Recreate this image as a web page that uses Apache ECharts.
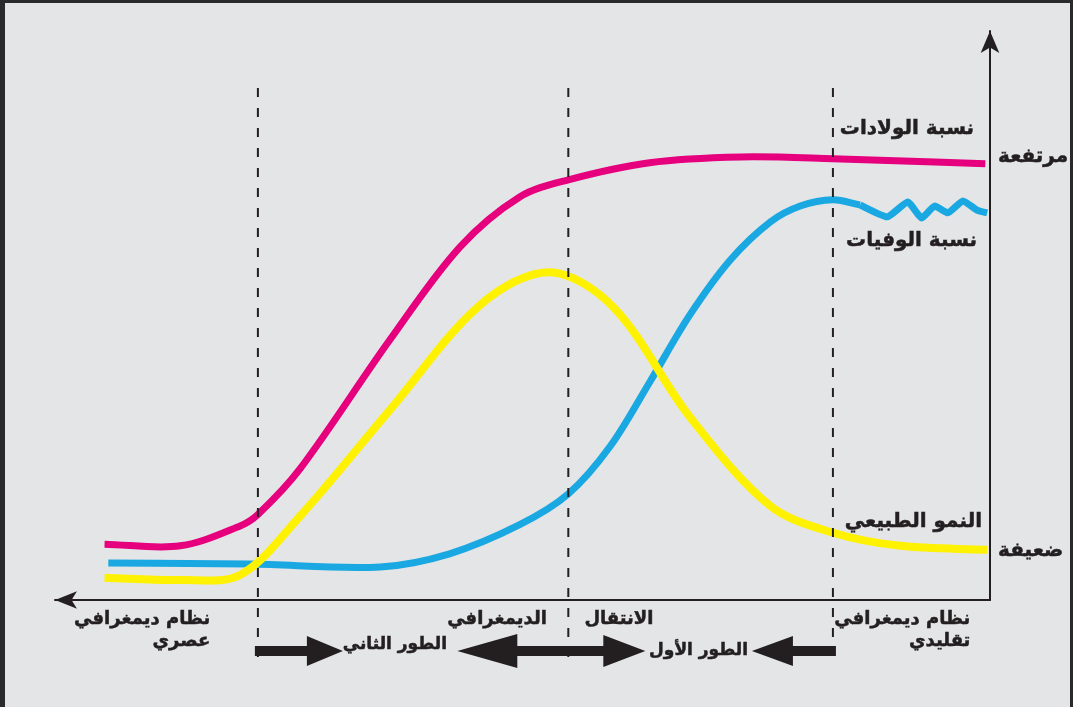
<!DOCTYPE html>
<html lang="ar">
<head>
<meta charset="utf-8">
<script src="https://cdn.jsdelivr.net/npm/echarts@6/dist/echarts.min.js"></script>
<style>
html,body{margin:0;padding:0;background:#e4e5e7;}
#c{width:1073px;height:707px;}
</style>
</head>
<body>
<div id="c"></div>
<script>
// ---- data (x: time units 0..100, y: rate level units 0..99.8) ----
const birthRate = [[5.3,9.8],[13.4,9.5],[19.8,13.0],[21.7,15.0],[26.2,23.0],[35.8,45.6],[43.3,61.9],[49.7,70.7],[54.9,73.7],[63.6,76.7],[73.3,77.7],[83.2,77.4],[99.5,76.5]];
const deathRate = [[5.7,6.5],[20.9,6.3],[34.8,5.8],[42.2,8.1],[49.7,13.2],[54.9,18.6],[59.4,27.0],[63.6,38.2],[67.9,50.0],[72.2,59.6],[76.5,66.3],[79.7,69.1],[83.2,70.2],[86.1,69.3]];
const deathRateTail = [[86.1,69.3],[89.0,67.2],[91.2,69.8],[92.7,67.0],[94.1,69.1],[95.5,67.9],[97.1,70.0],[98.6,68.4],[99.7,67.9]];
const naturalGrowth = [[5.3,3.9],[13.4,3.5],[19.8,4.4],[26.2,14.7],[35.8,33.3],[45.5,51.8],[52.9,57.5],[59.7,51.4],[67.9,32.1],[76.5,16.5],[83.2,11.8],[90.4,9.5],[99.7,8.8]];
const phaseBounds = [21.7, 54.9, 83.2];
const yLevelValues = [8.6, 77.7];
const yLevelLabels = ['ضعيفة', 'مرتفعة'];
const xLabelValues = [16.6, 52.6, 64.0, 97.9];
const xLabelTexts = ['نظام ديمغرافي\nعصري', 'الديمغرافي', 'الانتقال', 'نظام ديمغرافي\nتقليدي'];
const seriesNames = ['نسبة الولادات', 'نسبة الوفيات', 'النمو الطبيعي'];
const phaseNames = ['الطور الثاني', 'الطور الأول'];

const INK = '#231f20';
const FONT = '"DejaVu Sans", sans-serif';
const chart = echarts.init(document.getElementById('c'));

// smooth curve (chord-length Catmull-Rom) through the data, positioned with the axes' scales
function smoothCurve(name, data, color, width, z) {
  return {
    name: name, type: 'custom', data: data, z: z, clip: false,
    encode: {x: 0, y: 1},
    renderItem: function (params, api) {
      if (params.dataIndex !== 0) return null;
      const p = data.map(function (d) { return api.coord(d); });
      const n = p.length;
      const dist = function (a, b) { return Math.hypot(b[0] - a[0], b[1] - a[1]); };
      const m = p.map(function (pt, i) {
        if (i === 0) { const l = dist(p[0], p[1]); return [(p[1][0] - p[0][0]) / l, (p[1][1] - p[0][1]) / l]; }
        if (i === n - 1) { const l = dist(p[n - 2], p[n - 1]); return [(p[n - 1][0] - p[n - 2][0]) / l, (p[n - 1][1] - p[n - 2][1]) / l]; }
        const l = dist(p[i - 1], p[i]) + dist(p[i], p[i + 1]);
        return [(p[i + 1][0] - p[i - 1][0]) / l, (p[i + 1][1] - p[i - 1][1]) / l];
      });
      let d = 'M' + p[0][0] + ' ' + p[0][1];
      for (let i = 0; i < n - 1; i++) {
        const s = dist(p[i], p[i + 1]) / 3;
        d += ' C' + (p[i][0] + m[i][0] * s) + ' ' + (p[i][1] + m[i][1] * s) + ' ' +
             (p[i + 1][0] - m[i + 1][0] * s) + ' ' + (p[i + 1][1] - m[i + 1][1] * s) + ' ' +
             p[i + 1][0] + ' ' + p[i + 1][1];
      }
      return {type: 'path', shape: {pathData: d},
        style: {stroke: color, lineWidth: width, fill: 'none', lineCap: 'butt', lineJoin: 'round'}};
    }
  };
}

chart.setOption({
  backgroundColor: '#e4e5e7',
  animation: false,
  grid: {left: 55, right: 83, top: 31, bottom: 107},
  xAxis: {
    type: 'value', min: 0, max: 100,
    axisLine: {onZero: false, symbol: ['arrow', 'none'], symbolSize: [13, 22], lineStyle: {color: INK, width: 2}},
    axisTick: {show: false}, splitLine: {show: false},
    axisLabel: {
      customValues: xLabelValues,
      formatter: function (v) { const i = xLabelValues.indexOf(v); return i >= 0 ? xLabelTexts[i] : ''; },
      align: 'right', verticalAlign: 'top', margin: 8,
      color: INK, fontFamily: FONT, fontWeight: 'bold', fontSize: 18, lineHeight: 22,
      textBorderColor: INK, textBorderWidth: 0.5
    }
  },
  yAxis: {
    type: 'value', min: 0, max: 99.8, position: 'right',
    axisLine: {onZero: false, symbol: ['none', 'arrow'], symbolSize: [14, 22], lineStyle: {color: INK, width: 2}},
    axisTick: {show: false}, splitLine: {show: false},
    axisLabel: {
      customValues: yLevelValues,
      formatter: function (v) { const i = yLevelValues.indexOf(v); return i >= 0 ? yLevelLabels[i] : ''; },
      align: 'left', margin: 8,
      color: INK, fontFamily: FONT, fontWeight: 'bold', fontSize: 20,
      textBorderColor: INK, textBorderWidth: 0.5
    }
  },
  series: [
    smoothCurve(seriesNames[0], birthRate, '#e6007e', 7, 3),
    smoothCurve(seriesNames[1], deathRate, '#1aa8e2', 7, 3),
    {name: seriesNames[1] + ' ', type: 'line', data: deathRateTail, smooth: 0.15, symbol: 'none', z: 3,
     lineStyle: {color: '#1aa8e2', width: 7, cap: 'butt', join: 'round'}},
    smoothCurve(seriesNames[2], naturalGrowth, '#fff200', 8, 4)
  ]
});

// annotations placed from the phase boundaries
const px = phaseBounds.map(function (b) { return chart.convertToPixel({xAxisIndex: 0}, b); });
const AY = 651;
function arrowHead(x0, baseX, tipX) {
  return [[x0, AY - 5], [baseX, AY - 5], [baseX, AY - 15], [tipX, AY], [baseX, AY + 15], [baseX, AY + 5], [x0, AY + 5]];
}
const graphics = [];
px.forEach(function (x, i) {
  graphics.push({type: 'line', z: 100, silent: true,
    shape: {x1: x, y1: 88, x2: x, y2: i === 2 ? 640 : 660},
    style: {stroke: INK, lineWidth: 2, lineDash: [9, 11]}});
});
// phase 2 arrow (right-pointing from first boundary)
graphics.push({type: 'polygon', z: 100, shape: {points: arrowHead(px[0] - 3, px[0] + 49, px[0] + 85)}, style: {fill: INK}});
// double arrow around middle boundary
const mid = px[1];
graphics.push({type: 'polygon', z: 100, shape: {points: [
  [mid - 111, AY], [mid - 51, AY - 17], [mid - 51, AY - 5], [mid + 35, AY - 5], [mid + 35, AY - 16], [mid + 77, AY],
  [mid + 35, AY + 16], [mid + 35, AY + 5], [mid - 51, AY + 5], [mid - 51, AY + 17]]}, style: {fill: INK}});
// phase 1 arrow (left-pointing from last boundary)
graphics.push({type: 'polygon', z: 100, shape: {points: arrowHead(px[2] + 3, px[2] - 40, px[2] - 81)}, style: {fill: INK}});

function txt(t, x, y, size, align) {
  return {type: 'text', z: 100, silent: true, x: x, y: y,
    style: {text: t, fill: INK, stroke: INK, lineWidth: 0.5, font: 'bold ' + size + 'px ' + FONT, align: align || 'right', verticalAlign: 'middle'}};
}
graphics.push(txt(phaseNames[0], 447, 645, 17));
graphics.push(txt(phaseNames[1], 748, 651, 17));
graphics.push(txt(seriesNames[0], 974, 129, 20));
graphics.push(txt(seriesNames[1], 977, 241, 20));
graphics.push(txt(seriesNames[2], 982, 522, 20));
// frame
graphics.push({type: 'rect', z: 200, shape: {x: 0, y: 0, width: 5, height: 707}, style: {fill: '#2a2a2c'}});
graphics.push({type: 'rect', z: 200, shape: {x: 0, y: 0, width: 1073, height: 3}, style: {fill: '#2a2a2c'}});
graphics.push({type: 'rect', z: 200, shape: {x: 1070, y: 0, width: 3, height: 707}, style: {fill: '#2a2a2c'}});
chart.setOption({graphic: graphics});
</script>
</body>
</html>
